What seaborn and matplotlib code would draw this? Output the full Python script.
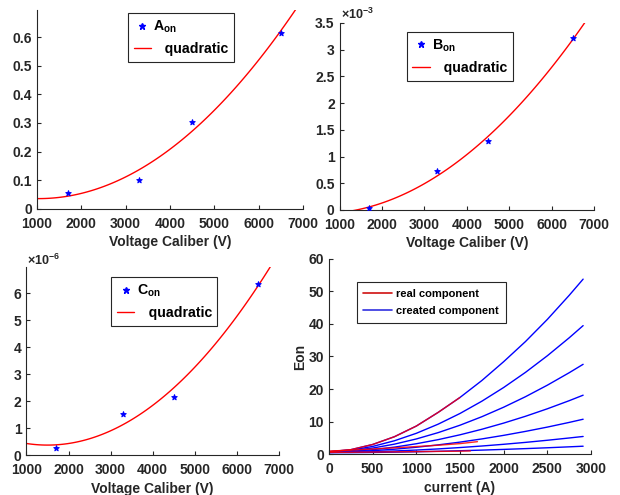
import matplotlib
matplotlib.use("Agg")
import matplotlib.pyplot as plt
from matplotlib.ticker import FuncFormatter, MultipleLocator
from matplotlib.lines import Line2D
import seaborn as sns

# --------------------------------------------------------------------------- #
# Data
# --------------------------------------------------------------------------- #

voltage = [1700, 3300, 4500, 6500]
a_on = [0.055, 0.100, 0.305, 0.615]
b_on = [0.03e-3, 0.73e-3, 1.29e-3, 3.21e-3]
c_on = [0.27e-6, 1.51e-6, 2.15e-6, 6.35e-6]

# created components, Eon vs current
current = [0, 250, 500, 750, 1000, 1250, 1500, 1750, 2000, 2250, 2500, 2750, 2910]
created_1 = [0.7, 1.34, 2.93, 5.33, 8.6, 12.8, 17.4, 22.6, 28.4, 34.6, 41.4, 48.8, 53.8]
created_2 = [0.7, 1.17, 2.33, 4.08, 6.37, 9.18, 12.47, 16.24, 20.46, 25.12, 30.22, 35.74, 39.5]
created_3 = [0.7, 1.02, 1.83, 3.04, 4.63, 6.58, 8.86, 11.47, 14.40, 17.63, 21.17, 25.00, 27.6]
created_4 = [0.6, 0.81, 1.33, 2.12, 3.16, 4.42, 5.91, 7.61, 9.51, 11.61, 13.91, 16.40, 18.1]
created_5 = [0.6, 0.72, 1.02, 1.48, 2.08, 2.81, 3.66, 4.64, 5.74, 6.96, 8.28, 9.72, 10.7]
created_6 = [0.5, 0.56, 0.71, 0.93, 1.22, 1.57, 1.99, 2.46, 2.99, 3.58, 4.23, 4.93, 5.4]
created_7 = [0.4, 0.42, 0.48, 0.57, 0.69, 0.84, 1.01, 1.20, 1.42, 1.66, 1.92, 2.21, 2.4]
created = [created_1, created_2, created_3, created_4, created_5, created_6, created_7]

# real components (measured range only)
real_current_1 = [0, 250, 500, 750, 1000, 1250, 1500]
real_eon_1 = [0.7, 1.34, 2.93, 5.33, 8.6, 12.8, 17.4]
real_current_2 = [0, 250, 500, 750, 1000, 1250, 1500, 1700]
real_eon_2 = [0.9, 1.2, 1.55, 1.9, 2.3, 2.7, 3.2, 3.8]
real_current_3 = [0, 250, 500, 750, 1000, 1250, 1500, 1620]
real_eon_3 = [0.5, 0.55, 0.6, 0.66, 0.73, 0.8, 0.88, 0.95]
real = [(real_current_1, real_eon_1), (real_current_2, real_eon_2),
        (real_current_3, real_eon_3)]

# --------------------------------------------------------------------------- #
# Style
# --------------------------------------------------------------------------- #

sns.set_style("ticks", {"xtick.direction": "in", "ytick.direction": "in"})
plt.rcParams["font.family"] = ["Liberation Sans", "DejaVu Sans"]
plt.rcParams["font.weight"] = "bold"
plt.rcParams["mathtext.fontset"] = "custom"
plt.rcParams["mathtext.rm"] = "Liberation Sans"
plt.rcParams["mathtext.bf"] = "Liberation Sans:bold"
plt.rcParams["axes.edgecolor"] = "#262626"
plt.rcParams["axes.linewidth"] = 0.8
plt.rcParams["xtick.color"] = "#262626"
plt.rcParams["ytick.color"] = "#262626"
plt.rcParams["xtick.labelcolor"] = "#262626"
plt.rcParams["ytick.labelcolor"] = "#262626"
plt.rcParams["xtick.major.size"] = 3
plt.rcParams["ytick.major.size"] = 3
plt.rcParams["xtick.major.pad"] = 5.5
plt.rcParams["ytick.major.pad"] = 3.5
plt.rcParams["xtick.labelsize"] = 10
plt.rcParams["ytick.labelsize"] = 10

fig = plt.figure(figsize=(6.2, 4.95), dpi=100)
ax_a = fig.add_axes([0.0597, 0.578, 0.429, 0.402])
ax_b = fig.add_axes([0.5476, 0.5758, 0.4105, 0.3778])
ax_c = fig.add_axes([0.0427, 0.0808, 0.4073, 0.3798])
ax_e = fig.add_axes([0.5306, 0.0828, 0.4226, 0.394])


def legend_box(ax, handles, labels, anchor, fontsize, **kw):
    leg = ax.legend(handles, labels, loc="upper left", bbox_to_anchor=anchor,
                    borderaxespad=0, fancybox=False, framealpha=1,
                    edgecolor="#262626", fontsize=fontsize, **kw)
    leg.get_frame().set_linewidth(0.8)
    for t in leg.get_texts():
        t.set_color("black")
    return leg


def fit_panel(ax, values, ylim, name, anchor, scale=None, exp_label=None, top_pad=0.0):
    ax.set_xlim(1000, 7000)
    ax.set_ylim(*ylim)
    sns.scatterplot(x=voltage, y=values, ax=ax, marker="*", s=16, color="blue",
                    edgecolor="blue", linewidth=0.8, zorder=3)
    sns.regplot(x=voltage, y=values, ax=ax, order=2, ci=None, scatter=False,
                truncate=False, line_kws={"color": "red", "lw": 1.0})
    ax.set_xlim(1000, 7000)
    ax.set_ylim(*ylim)
    ax.xaxis.set_major_locator(MultipleLocator(1000))
    ax.set_xlabel("Voltage Caliber (V)", fontsize=10, fontweight="bold", labelpad=3.5)
    ax.set_ylabel("")
    if scale is None:
        ax.yaxis.set_major_formatter(FuncFormatter(lambda v, _: f"{v:g}"))
    else:
        ax.yaxis.set_major_formatter(FuncFormatter(lambda v, _: f"{v * scale:g}"))
        ax.text(0.004, 1.0 + top_pad, exp_label, transform=ax.transAxes,
                fontsize=9, fontweight="normal", color="#262626",
                ha="left", va="baseline")
    sns.despine(ax=ax)
    handles = [Line2D([], [], ls="none", marker="*", ms=4.5, color="blue"),
               Line2D([], [], color="red", lw=1.0)]
    labels = [r"$\mathbf{%s}_{\mathbf{on}}$" % name, "   quadratic"]
    legend_box(ax, handles, labels, anchor, 10.2, handlelength=1.25,
               handletextpad=0.15, borderpad=0.4, labelspacing=0.5)


fit_panel(ax_a, a_on, (0, 0.695), "A", (0.342, 0.985))
ax_a.yaxis.set_major_locator(MultipleLocator(0.1))
fit_panel(ax_b, b_on, (0, 3.5e-3), "B", (0.264, 0.953), scale=1e3,
          exp_label=r"$\times10^{-3}$", top_pad=0.019)
ax_b.yaxis.set_major_locator(MultipleLocator(0.5e-3))
fit_panel(ax_c, c_on, (0, 6.98e-6), "C", (0.335, 0.947), scale=1e6,
          exp_label=r"$\times10^{-6}$", top_pad=0.012)
ax_c.yaxis.set_major_locator(MultipleLocator(1e-6))

# --- Eon vs current ---
for curve in created:
    sns.lineplot(x=current, y=curve, ax=ax_e, color="blue", lw=1.0)
for cur, eon in real:
    sns.lineplot(x=cur, y=eon, ax=ax_e, color="red", lw=1.0, alpha=0.85)
ax_e.set_xlim(0, 3000)
ax_e.set_ylim(0, 60)
ax_e.xaxis.set_major_locator(MultipleLocator(500))
ax_e.yaxis.set_major_locator(MultipleLocator(10))
ax_e.set_xlabel("current (A)", fontsize=10, fontweight="bold", labelpad=3.5)
ax_e.set_ylabel("Eon", fontsize=10, fontweight="bold", labelpad=1)
sns.despine(ax=ax_e)
legend_box(ax_e,
           [Line2D([], [], color="#d01010", lw=1.2), Line2D([], [], color="#3030e0", lw=1.2)],
           ["real component", "created component"], (0.106, 0.882), 8,
           handlelength=2.6, handletextpad=0.35, borderpad=0.6, labelspacing=0.65)

fig.savefig("out.png", dpi=100)
